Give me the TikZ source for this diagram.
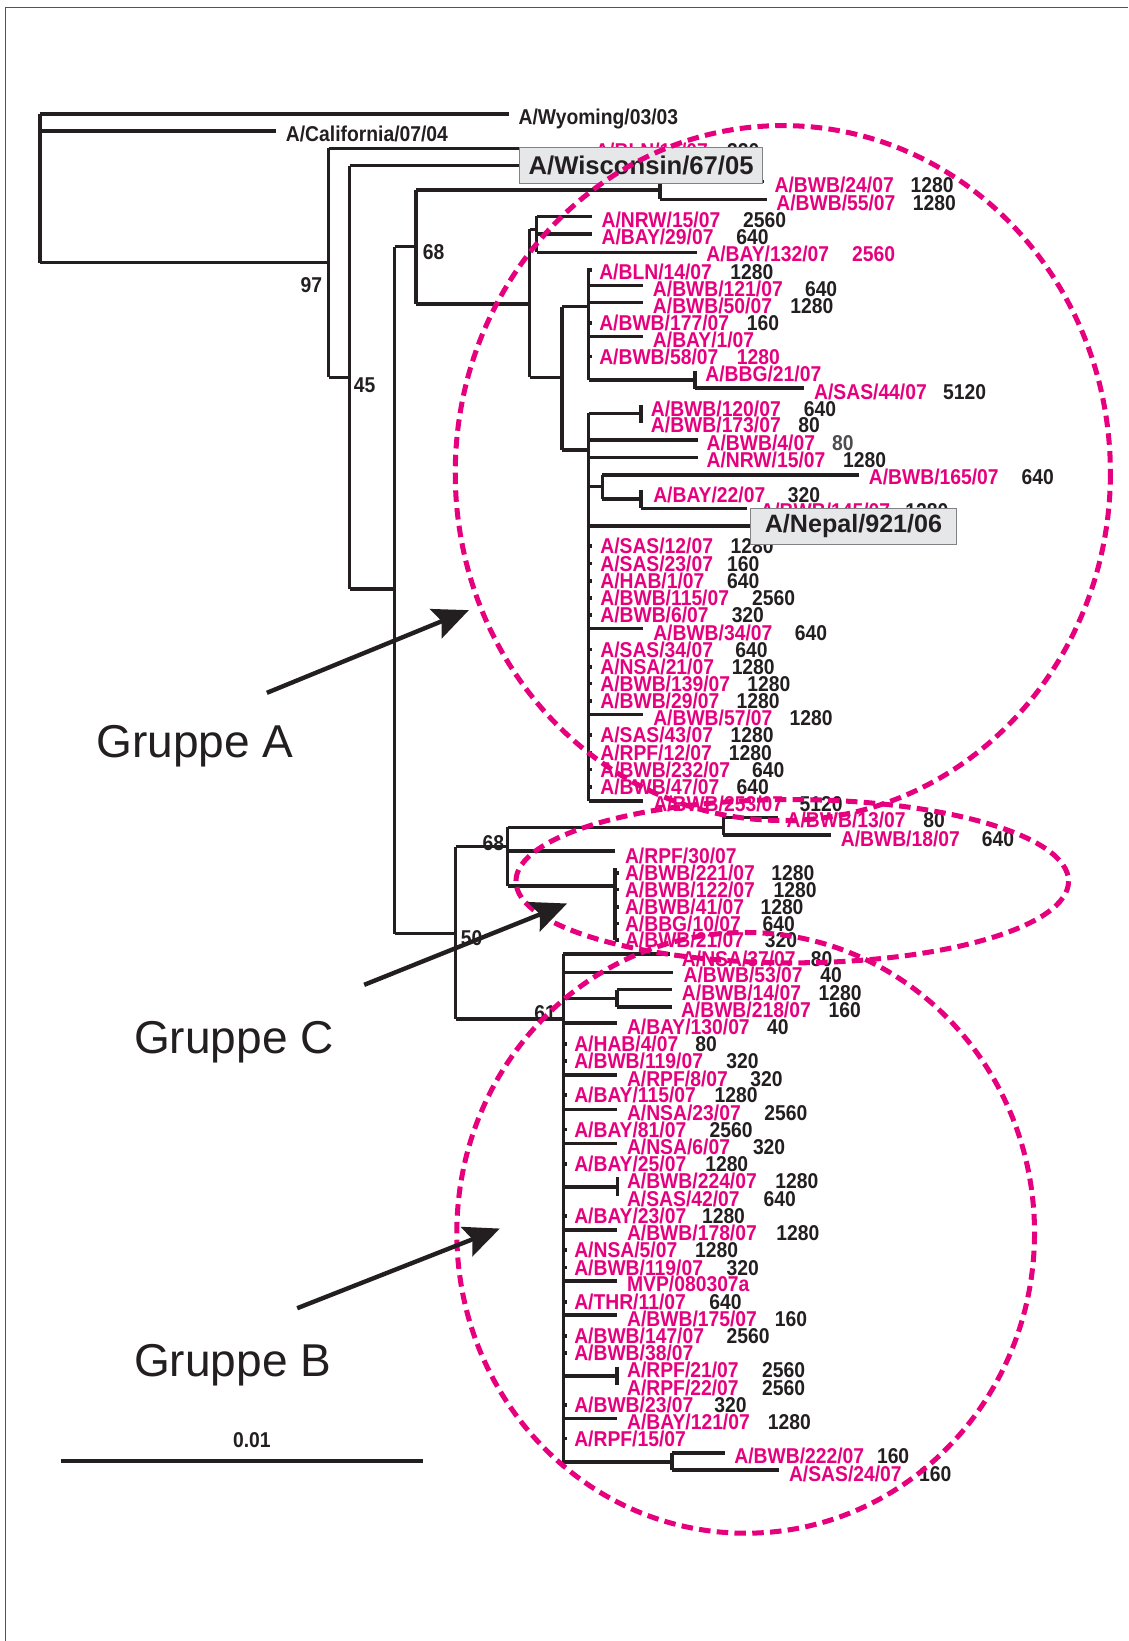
\documentclass[tikz,border=0pt]{standalone}
\usepackage{fontspec}
\setmainfont{Liberation Sans}
\newfontfamily\lblfont{Liberation Sans}[FakeStretch=0.9]
\usetikzlibrary{arrows.meta}
\definecolor{mag}{HTML}{E6007E}
\definecolor{ink}{HTML}{231F20}
\definecolor{inkgray}{HTML}{4D4D4F}
\definecolor{boxfill}{HTML}{E6E7E8}
\definecolor{boxline}{HTML}{808285}
\tikzset{
 tl/.style={line width=3.4pt, draw=ink, line cap=butt, line join=miter},
 lbl/.style={anchor=west, inner sep=0pt, text height=14.6pt, text depth=0pt, text=mag, font=\lblfont\bfseries\fontsize{20.5}{20.5}\selectfont},
 num/.style={lbl, text=ink},
 blk/.style={lbl, text=ink},
 boot/.style={inner sep=0pt, text=ink, font=\lblfont\bfseries\fontsize{20.5}{20.5}\selectfont},
 refbox/.style={draw=boxline, line width=1.2pt, fill=boxfill, inner sep=0pt, text=ink, font=\bfseries\fontsize{24.5}{24.5}\selectfont},
 grp/.style={anchor=base west, text=ink, font=\fontsize{44}{44}\selectfont, inner sep=0pt},
 ell/.style={draw=mag, line width=4.8pt, dash pattern=on 11pt off 6pt},
 arr/.style={draw=ink, line width=4.2pt, -{Stealth[length=34pt,width=30pt,inset=6pt]}},
 framel/.style={draw=mag, line width=1.2pt}
}
\newcommand\Lf[6]{\node[lbl] (#1) at (#2,#3) {#4};\node[num] (#1n) at (#5,#3) {#6};}
\newcommand\Lo[4]{\node[lbl] (#1) at (#2,#3) {#4};}
\newcommand\tk[2]{\draw[tl] (#1,#2)--++(3.5,0);}
\begin{document}
\begin{tikzpicture}[x=1pt,y=-1pt]
\useasboundingbox (0,0) rectangle (1078,1568);
\fill[white] (0,0) rectangle (1078,1568);
% frame
\draw[framel] (5.5,1568)--(5.5,7)--(1078,7);

% ---------- outgroup ----------
\coordinate (root) at (38,109);
\draw[tl] (38,109)--(38,251);
\draw[tl] (38,109)--(486,109);
\draw[tl] (38,125)--(263.5,125);
\draw[tl] (38,251)--(314,251);
\draw[tl] (314,141.7)--(314,360.6);
\draw[tl] (314,141.7)--(555,141.7);
\draw[tl] (314,360.6)--(334,360.6);
\draw[tl] (334,158.3)--(334,563);
\draw[tl] (334,158.3)--(497,158.3);
\draw[tl] (334,563)--(377,563);
\draw[tl] (377,235.7)--(377,892);
\draw[tl] (377,235.7)--(397.7,235.7);
% 68 clade
\draw[tl] (397.7,181.6)--(397.7,290.5);
\draw[tl] (397.7,181.6)--(630.5,181.6);
\draw[tl] (630.5,173.6)--(630.5,190.5);
\draw[tl] (630.5,173.6)--(730,173.6);
\draw[tl] (630.5,190.5)--(732.4,190.5);
\draw[tl] (397.7,290.5)--(506,290.5);
\draw[tl] (506,219.2)--(506,360.6);
\draw[tl] (506,219.2)--(512.7,219.2);
\draw[tl] (512.7,206.4)--(512.7,241.1);
\draw[tl] (512.7,207)--(565.6,207);
\draw[tl] (512.7,223.6)--(565.6,223.6);
\draw[tl] (512.7,241.1)--(665.7,241.1);
\draw[tl] (506,360.6)--(537,360.6);
\draw[tl] (537,293)--(537,430);
\draw[tl] (537,293)--(562.4,293);
\draw[tl] (562.4,256.4)--(562.4,363.2);
\tk{562.4}{258}\tk{562.4}{308.4}\tk{562.4}{340.8}
\draw[tl] (562.4,273)--(614.8,273);
\draw[tl] (562.4,289.2)--(614.8,289.2);
\draw[tl] (562.4,321.7)--(614.8,321.7);
\draw[tl] (562.4,363.2)--(664,363.2);
\draw[tl] (664,354.2)--(664,372);
\draw[tl] (664,371)--(768.6,371);
\draw[tl] (537,430)--(562.4,430);
\draw[tl] (562.4,395)--(562.4,765.5);
\draw[tl] (562.4,395)--(612.3,395);
\draw[tl] (612.3,387)--(612.3,404.5);
\draw[tl] (562.4,420.5)--(667.4,420.5);
\draw[tl] (562.4,437)--(667.4,437);
\draw[tl] (562.4,465)--(575.6,465);
\draw[tl] (575.6,454)--(575.6,477);
\draw[tl] (575.6,454)--(821,454);
\draw[tl] (575.6,477)--(612.3,477);
\draw[tl] (612.3,468)--(612.3,485.8);
\draw[tl] (612.3,485.8)--(714,485.8);
\draw[tl] (562.4,502.4)--(718.5,502.4);
\draw[tl] (562.4,600.5)--(614.4,600.5);
\draw[tl] (562.4,682.6)--(614.4,682.6);
\draw[tl] (562.4,765.5)--(614.4,765.5);
\foreach \yy in {521.8,538.3,555,571.2,587.7,620.5,637.1,653,669.6,702.4,719,735.2,751.8} {\tk{562.4}{\yy}}

% ---------- C / B ----------
\draw[tl] (377,892)--(435.3,892);
\draw[tl] (435.3,809)--(435.3,973.5);
\draw[tl] (435.3,809)--(485,809);
\draw[tl] (485,790.6)--(485,846.7);
\draw[tl] (485,790.6)--(691.2,790.6);
\draw[tl] (691.2,781)--(691.2,798);
\draw[tl] (691.2,781)--(743,781);
\draw[tl] (691.2,798)--(793.7,798);
\draw[tl] (485,813.3)--(587.5,813.3);
\draw[tl] (485,846.7)--(587.5,846.7);
\draw[tl] (587.5,829.8)--(587.5,898.3);
\foreach \yy in {834,849.9,866.5,882.4,898.3} {\tk{587.5}{\yy}}
\draw[tl] (435.3,973.5)--(538.4,973.5);
\draw[tl] (538.4,911.7)--(538.4,1396.8);
\draw[tl] (538.4,911.7)--(640.3,911.7);
\draw[tl] (538.4,929.2)--(643.5,929.2);
\draw[tl] (538.4,954)--(589.3,954);
\draw[tl] (589.3,945.5)--(589.3,962);
\draw[tl] (589.3,945.5)--(641.9,945.5);
\draw[tl] (589.3,962)--(641.9,962);
\draw[tl] (538.4,977.3)--(590,977.3);
\draw[tl] (538.4,1027.3)--(590,1027.3);
\draw[tl] (538.4,1060.1)--(590,1060.1);
\draw[tl] (538.4,1092.6)--(590,1092.6);
\draw[tl] (538.4,1134)--(590,1134);
\draw[tl] (590,1125)--(590,1143);
\draw[tl] (538.4,1175.5)--(590,1175.5);
\draw[tl] (538.4,1224.2)--(590,1224.2);
\draw[tl] (538.4,1256.7)--(590,1256.7);
\draw[tl] (538.4,1315)--(589.8,1315);
\draw[tl] (589.8,1306.1)--(589.8,1323.6);
\draw[tl] (538.4,1355.4)--(590,1355.4);
\draw[tl] (538.4,1396.8)--(642.2,1396.8);
\draw[tl] (642.2,1388.2)--(642.2,1404.8);
\draw[tl] (642.2,1388.2)--(692.7,1388.2);
\draw[tl] (642.2,1404.8)--(744.5,1404.8);
\foreach \yy in {997.7,1013.6,1046.5,1079.2,1112.4,1162.1,1194.6,1211.2,1244,1276.4,1292.7,1342.7,1374.5} {\tk{538.4}{\yy}}

% ---------- labels: outgroup ----------
\node[blk] (wyo) at (495.3,111.5) {A/Wyoming/03/03};
\node[blk] (cal) at (273,128) {A/California/07/04};
\Lf{bln16}{568.6}{144}{A/BLN/16/07}{694.5}{320}
% 68 clade
\Lf{bwb24}{740}{176.8}{A/BWB/24/07}{870}{1280}
\Lf{bwb55}{741.6}{193.5}{A/BWB/55/07}{872}{1280}
\Lf{nrw15a}{574.6}{210.2}{A/NRW/15/07}{709.8}{2560}
\Lf{bay29}{574.6}{226.4}{A/BAY/29/07}{703.4}{640}
\Lo{bay132}{674.8}{242.9}{A/BAY/132/07}
\node[lbl] (bay132n) at (814,242.9) {2560};
\Lf{bln14}{572.4}{259.6}{A/BLN/14/07}{697.6}{1280}
\Lf{bwb121}{623.7}{276.3}{A/BWB/121/07}{769}{640}
\Lf{bwb50}{623.7}{291.8}{A/BWB/50/07}{755}{1280}
\Lf{bwb177}{572.4}{308.4}{A/BWB/177/07}{713.5}{160}
\Lo{bay1}{623.7}{325}{A/BAY/1/07}
\Lo{bwb58}{572.4}{340.8}{A/BWB/58/07}
\node[lbl] (bwb58n) at (704,340.8) {1280};
\Lo{bbg21}{673.8}{357}{A/BBG/21/07}
\Lf{sas44}{777.7}{374.3}{A/SAS/44/07}{901}{5120}
\Lf{bwb120}{621.8}{390.2}{A/BWB/120/07}{768}{640}
\Lf{bwb173}{621.8}{406.2}{A/BWB/173/07}{762.6}{80}
\Lo{bwb4}{675}{423}{A/BWB/4/07}
\node[num,text=inkgray] (bwb4n) at (795,423) {80};
\Lf{nrw15b}{675}{439.6}{A/NRW/15/07}{805.5}{1280}
\Lf{bwb165}{830}{456}{A/BWB/165/07}{976}{640}
\Lf{bay22}{624}{473}{A/BAY/22/07}{752.6}{320}
\Lf{bwb145}{726.3}{488.5}{A/BWB/145/07}{865}{1280}
\Lf{sas12}{573.4}{521.8}{A/SAS/12/07}{698}{1280}
\Lf{sas23}{573.4}{538.3}{A/SAS/23/07}{694.6}{160}
\Lf{hab1}{573.4}{555}{A/HAB/1/07}{694.6}{640}
\Lf{bwb115}{573.4}{571.2}{A/BWB/115/07}{718.5}{2560}
\Lf{bwb6}{573.4}{587.7}{A/BWB/6/07}{699}{320}
\Lf{bwb34}{624}{604.3}{A/BWB/34/07}{759.4}{640}
\Lf{sas34}{573.4}{620.5}{A/SAS/34/07}{702.4}{640}
\Lf{nsa21}{573.4}{637.1}{A/NSA/21/07}{699}{1280}
\Lf{bwb139}{573.4}{653}{A/BWB/139/07}{714}{1280}
\Lf{bwb29}{573.4}{669.6}{A/BWB/29/07}{703.7}{1280}
\Lf{bwb57}{624}{686.2}{A/BWB/57/07}{754.3}{1280}
\Lf{sas43}{573.4}{702.4}{A/SAS/43/07}{698}{1280}
\Lf{rpf12}{573.4}{719}{A/RPF/12/07}{696.3}{1280}
\Lf{bwb232}{573.4}{735.2}{A/BWB/232/07}{718.5}{640}
\Lf{bwb47}{573.4}{751.8}{A/BWB/47/07}{703.7}{640}
\Lf{bwb253}{624}{767.7}{A/BWB/253/07}{763.8}{5120}
% C clade
\Lf{bwb13}{751.4}{783.6}{A/BWB/13/07}{882}{80}
\Lf{bwb18}{803.2}{801.2}{A/BWB/18/07}{938}{640}
\Lo{rpf30}{597}{818}{A/RPF/30/07}
\Lf{bwb221}{597}{834}{A/BWB/221/07}{736.8}{1280}
\Lf{bwb122}{597}{849.9}{A/BWB/122/07}{739}{1280}
\Lf{bwb41}{597}{866.5}{A/BWB/41/07}{726.5}{1280}
\Lf{bbg10}{597}{882.4}{A/BBG/10/07}{728.6}{640}
\Lf{bwb21}{597}{898.3}{A/BWB/21/07}{730.7}{320}
% B clade
\Lf{nsa37}{651.4}{915.8}{A/NSA/37/07}{774.7}{80}
\Lf{bwb53}{653}{931.8}{A/BWB/53/07}{783.6}{40}
\Lf{bwb14}{651.4}{948.3}{A/BWB/14/07}{782}{1280}
\Lf{bwb218}{650.5}{965.2}{A/BWB/218/07}{791.6}{160}
\Lf{bay130}{598.9}{981.1}{A/BAY/130/07}{732.7}{40}
\Lf{hab4}{548.5}{997.7}{A/HAB/4/07}{664.2}{80}
\Lf{bwb119a}{548.5}{1013.6}{A/BWB/119/07}{693.8}{320}
\Lf{rpf8}{598.9}{1030.5}{A/RPF/8/07}{716.7}{320}
\Lf{bay115}{548.5}{1046.5}{A/BAY/115/07}{682.6}{1280}
\Lf{nsa23}{598.9}{1063}{A/NSA/23/07}{730.1}{2560}
\Lf{bay81}{548.5}{1079.2}{A/BAY/81/07}{677.9}{2560}
\Lf{nsa6}{598.9}{1095.8}{A/NSA/6/07}{719.3}{320}
\Lf{bay25}{548.5}{1112.4}{A/BAY/25/07}{673.7}{1280}
\Lf{bwb224}{598.9}{1128.3}{A/BWB/224/07}{740.6}{1280}
\Lf{sas42}{598.9}{1145.2}{A/SAS/42/07}{729.5}{640}
\Lf{bay23}{548.5}{1162.1}{A/BAY/23/07}{670.6}{1280}
\Lf{bwb178}{598.9}{1178}{A/BWB/178/07}{741.6}{1280}
\Lf{nsa5}{548.5}{1194.6}{A/NSA/5/07}{664.1}{1280}
\Lf{bwb119b}{548.5}{1211.2}{A/BWB/119/07}{694.1}{320}
\Lo{mvp}{599}{1227.1}{MVP/080307a}
\Lf{thr11}{548.5}{1244}{A/THR/11/07}{677.6}{640}
\Lf{bwb175}{599}{1259.9}{A/BWB/175/07}{740.2}{160}
\Lf{bwb147}{548.5}{1276.4}{A/BWB/147/07}{694.1}{2560}
\Lo{bwb38}{548.5}{1292.7}{A/BWB/38/07}
\Lf{rpf21}{599}{1309.2}{A/RPF/21/07}{728.1}{2560}
\Lf{rpf22}{599}{1325.8}{A/RPF/22/07}{728.1}{2560}
\Lf{bwb23}{548.5}{1342.7}{A/BWB/23/07}{682.4}{320}
\Lf{bay121}{599}{1358.6}{A/BAY/121/07}{733.6}{1280}
\Lo{rpf15}{548.5}{1374.5}{A/RPF/15/07}
\Lf{bwb222}{701.5}{1391.4}{A/BWB/222/07}{837.8}{160}
\Lf{sas24}{753.7}{1408}{A/SAS/24/07}{878}{160}

% bootstrap values
\node[boot] (b97) at (297.6,272.4) {97};
\node[boot] (b45) at (348.4,368) {45};
\node[boot] (b68a) at (414.3,240.5) {68};
\node[boot] (b68b) at (471.4,806) {68};
\node[boot] (b50) at (450.7,896.7) {50};
\node[boot] (b61) at (520.8,967.8) {61};

% reference boxes
\node[refbox, minimum width=232.3pt, minimum height=34.4pt] (wisc) at (612.6,158) {A/Wisconsin/67/05};
\node[refbox, minimum width=197pt, minimum height=34.2pt, font=\bfseries\fontsize{24}{24}\selectfont] (nepal) at (815.5,502.9) {A/Nepal/921/06};

% dashed group outlines
\draw[ell] (748,452) ellipse [x radius=313, y radius=332];
\draw[ell] (757,842) ellipse [x radius=264, y radius=78];
\draw[ell] (712.5,1178) ellipse [x radius=276, y radius=287];

% arrows and group names
\coordinate (aA0) at (255,662); \coordinate (aA1) at (448,583);
\coordinate (aC0) at (348,941); \coordinate (aC1) at (541.9,863.3);
\coordinate (aB0) at (284,1250); \coordinate (aB1) at (477.6,1173.9);
\draw[arr] (aA0)--(aA1);
\draw[arr] (aC0)--(aC1);
\draw[arr] (aB0)--(aB1);
\node[grp] (gA) at (92,723.7) {Gruppe A};
\node[grp] (gC) at (128,1006.7) {Gruppe C};
\node[grp] (gB) at (128,1315.7) {Gruppe B};

% scale bar
\coordinate (sb0) at (58.4,1395.9); \coordinate (sb1) at (404.2,1395.9);
\draw[tl, line width=3.6pt] (sb0)--(sb1);
\node[boot] (sbl) at (240.6,1376) {0.01};
\end{tikzpicture}
\end{document}
